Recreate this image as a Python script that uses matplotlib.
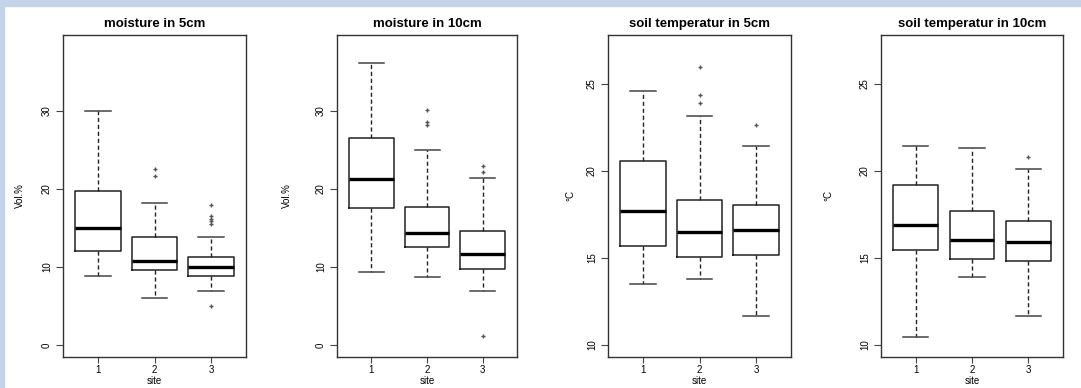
import matplotlib
matplotlib.use("Agg")
import matplotlib.pyplot as plt
from matplotlib.patches import Rectangle

plt.rcParams['font.family'] = ['Liberation Sans', 'DejaVu Sans']

sites = ["1", "2", "3"]
titles = ["moisture in 5cm", "moisture in 10cm", "soil temperatur in 5cm", "soil temperatur in 10cm"]
ylabels = ["Vol.%", "Vol.%", "°C", "°C"]

# box stats per panel, one value per site
whislo = [[8.85, 6.0, 6.9], [9.4, 8.7, 6.9], [13.5, 13.8, 11.68], [10.48, 13.9, 11.68]]
q1 = [[12.1, 9.6, 8.8], [17.5, 12.6, 9.7], [15.69, 15.03, 15.18], [15.46, 14.93, 14.8]]
med = [[15.0, 10.8, 10.0], [21.3, 14.3, 11.7], [17.67, 16.5, 16.59], [16.88, 16.0, 15.89]]
q3 = [[19.8, 13.8, 11.3], [26.5, 17.7, 14.6], [20.57, 18.33, 18.04], [19.16, 17.7, 17.09]]
whishi = [[30.0, 18.2, 13.8], [36.2, 25.0, 21.4], [24.55, 23.11, 21.43], [21.43, 21.33, 20.09]]
fliers = [
    [[], [22.5, 21.7], [17.9, 16.6, 16.2, 15.9, 15.5, 5.0]],
    [[], [30.1, 28.6, 28.2], [23.0, 22.2, 1.1]],
    [[], [25.96, 24.33, 23.89], [22.63]],
    [[], [], [20.8]],
]
ylims = [(0, 38.2), (0, 38.2), (10, 27.1), (10, 27.1)]
yticks = [[0, 10, 20, 30], [0, 10, 20, 30], [10, 15, 20, 25], [10, 15, 20, 25]]

W, H = 1081, 388
fig = plt.figure(figsize=(W / 100, H / 100), dpi=100)
fig.patches.append(Rectangle((0, 1 - 6 / H), 1, 6 / H, transform=fig.transFigure,
                             color="#c5d3e9", zorder=0))
fig.patches.append(Rectangle((0, 0), 4 / W, 1, transform=fig.transFigure,
                             color="#c5d3e9", zorder=0))

ax_left = [63, 337, 608, 881]
ax_right = [246, 517, 791, 1063]
ylab_x = [20, 287, 570, 828]
top, bot = 35, 357

for i in range(4):
    x0, x1 = ax_left[i], ax_right[i]
    ax = fig.add_axes([x0 / W, (H - bot) / H, (x1 - x0) / W, (bot - top) / H])
    stats = []
    for j in range(3):
        stats.append(dict(whislo=whislo[i][j], q1=q1[i][j], med=med[i][j],
                          q3=q3[i][j], whishi=whishi[i][j], fliers=fliers[i][j]))
    ax.bxp(stats, positions=[1, 2, 3], widths=0.8, capwidths=0.45,
           boxprops=dict(color="#222222", lw=1.1),
           medianprops=dict(color="black", lw=2.4),
           whiskerprops=dict(color="#222222", lw=1.0, linestyle=(0, (3, 2))),
           capprops=dict(color="#444444", lw=1.1),
           flierprops=dict(marker="+", markersize=3, markeredgecolor="#555555", lw=0.6))
    lo, hi = ylims[i]
    r = hi - lo
    ax.set_ylim(lo - 0.04 * r, hi + 0.04 * r)
    ax.set_xlim(0.38, 3.62)
    ax.set_xticks([1, 2, 3])
    ax.set_xticklabels(sites, fontsize=7)
    ax.set_yticks(yticks[i])
    ax.set_yticklabels([str(v) for v in yticks[i]], fontsize=7, rotation=90, va="center")
    ax.tick_params(axis="x", length=4, width=0.8, color="#444444", pad=2)
    ax.tick_params(axis="y", length=5, width=0.8, color="#444444", pad=3)
    for s in ax.spines.values():
        s.set_color("#333333")
        s.set_linewidth(1.0)
    ax.set_title(titles[i], fontsize=9.5, fontweight="bold", pad=6)
    ax.set_xlabel("site", fontsize=7, va="center")
    ax.xaxis.set_label_coords(0.5, (bot - 381) / (bot - top))
    ax.set_ylabel(ylabels[i], fontsize=7, va="center")
    ax.yaxis.set_label_coords((ylab_x[i] - x0) / (x1 - x0), 0.5)

fig.savefig("out.png", dpi=100)
